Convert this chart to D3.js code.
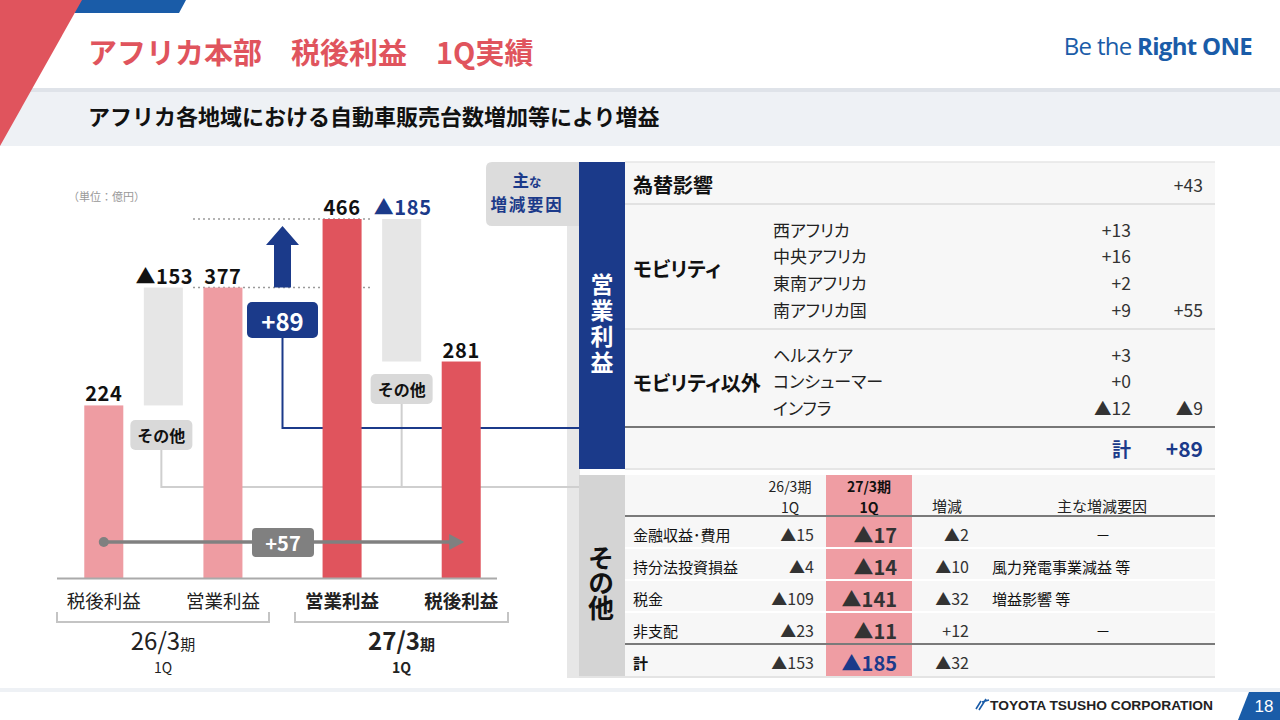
<!DOCTYPE html>
<html><head><meta charset="utf-8">
<script src="https://cdn.jsdelivr.net/npm/d3@7"></script>
<style>
html,body{margin:0;padding:0;background:#fff;}
svg{display:block;}
text{font-family:'Noto Sans CJK JP','Noto Sans',sans-serif;}
.palt{font-feature-settings:"palt";}
</style></head>
<body>
<svg id="c" width="1280" height="720"></svg>
<script>
// ---------- DATA ----------
const barKeys = ["prevNet","prevOther","prevOp","opDelta","curOp","curOther","curNet"];
const barValues = [224, -153, 377, 89, 466, -185, 281];
const axisLabels = ["税後利益","営業利益","営業利益","税後利益"];
const periodLabels = ["26/3","27/3"];
const netChange = 57;

const fxLabel = "為替影響";
const fxValue = 43;
const mobilityLabel = "モビリティ";
const mobilityRegions = ["西アフリカ","中央アフリカ","東南アフリカ","南アフリカ国"];
const mobilityValues = [13, 16, 2, 9];
const mobilityTotal = 55;
const nonMobilityLabel = "モビリティ以外";
const nonMobilityItems = ["ヘルスケア","コンシューマー","インフラ"];
const nonMobilityValues = [3, 0, -12];
const nonMobilityTotal = -9;
const opTotal = 89;

const otherHeaders = ["26/3期","27/3期","増減","主な増減要因"];
const otherItems = ["金融収益･費用","持分法投資損益","税金","非支配","計"];
const otherPrev = [-15, -4, -109, -23, -153];
const otherCur = [-17, -14, -141, -11, -185];
const otherDiff = [-2, -10, -32, 12, -32];
const otherReasons = ["－","風力発電事業減益 等","増益影響 等","－",""];

// ---------- HELPERS ----------
const fmt = v => v < 0 ? "▲" + Math.abs(v) : "+" + v;
const svg = d3.select("#c");
const NAVY = "#1b3a8a", RED = "#e0545d", PINK = "#ee9ca2", GRAYBAR = "#e6e6e6";

// ---------- HEADER ----------
svg.append("rect").attr("x",0).attr("y",88).attr("width",1280).attr("height",58).attr("fill","#eef1f5");
svg.append("rect").attr("x",0).attr("y",88).attr("width",1280).attr("height",4).attr("fill","#dfe3e9");
svg.append("polygon").attr("points","80,0 186,0 179,13 74,13").attr("fill","#1a5ca8");
svg.append("polygon").attr("points","0,0 82,0 0,146").attr("fill",RED);
svg.append("text").attr("x",88).attr("y",64).attr("font-size",29).attr("font-weight",700)
  .attr("fill",RED).text("アフリカ本部\u3000税後利益\u30001Q実績");
const logo = svg.append("text").attr("x",1252).attr("y",55).attr("text-anchor","end")
  .attr("font-size",24).attr("fill","#1a5ca8").style("font-family","'Open Sans',sans-serif").attr("letter-spacing",-0.7);
logo.append("tspan").text("Be the ");
logo.append("tspan").attr("font-weight",700).text("Right ONE");
svg.append("text").attr("x",88).attr("y",125).attr("font-size",22).attr("font-weight",700)
  .attr("fill","#111").text("アフリカ各地域における自動車販売台数増加等により増益");

// ---------- CHART ----------
const x = d3.scaleBand().domain(barKeys).range([74,491]).paddingInner(0.345).paddingOuter(0.1725);
const y = d3.scaleLinear().domain([0,466]).range([578,219]);
const bw = x.bandwidth();
const cx = k => x(k) + bw/2;

svg.append("text").attr("x",68).attr("y",201).attr("font-size",11).attr("fill","#999").text("（単位：億円）");

const ext = {};
ext.prevNet = [0, barValues[0]];
ext.prevOp = [0, barValues[2]];
ext.prevOther = [barValues[2] + barValues[1], barValues[2]];
ext.opDelta = [barValues[2], barValues[2] + barValues[3]];
ext.curOp = [0, barValues[4]];
ext.curOther = [barValues[4] + barValues[5], barValues[4]];
ext.curNet = [0, barValues[6]];

// dotted guides
[barValues[2], barValues[4]].forEach(v => {
  svg.append("line").attr("x1",193).attr("x2",370).attr("y1",y(v)).attr("y2",y(v))
    .attr("stroke","#9a9a9a").attr("stroke-width",1.5).attr("stroke-dasharray","2,3");
});

const fillFor = k => k==="prevNet"||k==="prevOp" ? PINK : (k==="curOp"||k==="curNet" ? RED : GRAYBAR);
const rectKeys = barKeys.filter(k => k !== "opDelta");

// right-panel gray strip (under connectors)
svg.append("rect").attr("x",567).attr("y",162).attr("width",13).attr("height",516).attr("fill","#e7e7e7");

// connector lines
const boxDelta = {x: cx("opDelta"), top: 302, bottom: 338};
svg.append("path").attr("d",`M${cx("prevOther")-2},449 V487 H580 M${cx("curOther")},404 V487`)
  .attr("fill","none").attr("stroke","#cfcfcf").attr("stroke-width",2);
svg.append("path").attr("d",`M${boxDelta.x},${boxDelta.bottom} V428 H582`)
  .attr("fill","none").attr("stroke",NAVY).attr("stroke-width",2);

svg.selectAll("rect.bar").data(rectKeys).join("rect").attr("class","bar")
  .attr("x", k => x(k)).attr("width", bw)
  .attr("y", k => y(ext[k][1])).attr("height", k => y(ext[k][0]) - y(ext[k][1]))
  .attr("fill", fillFor);

// delta arrow
{
  const k = "opDelta", c = cx(k);
  const yb = y(ext[k][0]), yt = y(ext[k][1]) + 7;
  svg.append("path").attr("d",`M${c-8.5},${yb} V${yt+19} H${c-16.5} L${c},${yt} L${c+16.5},${yt+19} H${c+8.5} V${yb} Z`)
    .attr("fill",NAVY);
}

// value labels
barKeys.forEach((k,i) => {
  if (k === "opDelta") return;
  const isTotal = ["prevNet","prevOp","curOp","curNet"].includes(k);
  svg.append("text").attr("x", cx(k) + (isTotal?0:1)).attr("y", y(ext[k][1]) - 4)
    .attr("text-anchor","middle").attr("font-size",20).attr("font-weight",700).attr("letter-spacing",0.6)
    .attr("fill", k==="curOther" ? NAVY : "#111")
    .text(isTotal ? barValues[i] : fmt(barValues[i]));
});

// +89 box
svg.append("rect").attr("x",boxDelta.x-35.5).attr("y",boxDelta.top).attr("width",71).attr("height",36).attr("rx",5).attr("fill",NAVY);
svg.append("text").attr("x",boxDelta.x).attr("y",320).attr("dominant-baseline","central").attr("text-anchor","middle")
  .attr("font-size",24).attr("font-weight",700).attr("fill","#fff").text(fmt(barValues[3]));

// その他 boxes
[[cx("prevOther")-2,435],[cx("curOther"),389]].forEach(([bx,by]) => {
  svg.append("rect").attr("x",bx-31).attr("y",by-15).attr("width",62).attr("height",30).attr("rx",5).attr("fill","#d9d9d9");
  svg.append("text").attr("x",bx).attr("y",by).attr("dominant-baseline","central").attr("text-anchor","middle")
    .attr("font-size",16).attr("font-weight",700).attr("fill","#111").text("その他");
});

// axis line
svg.append("line").attr("x1",57).attr("x2",497).attr("y1",578.5).attr("y2",578.5).attr("stroke","#aaa").attr("stroke-width",2);

// +57 arrow
{
  const y0 = 542, x0 = cx("prevNet"), x1 = cx("curNet");
  svg.append("line").attr("x1",x0).attr("x2",x1-10).attr("y1",y0).attr("y2",y0).attr("stroke","#808080").attr("stroke-width",3.5);
  svg.append("circle").attr("cx",x0).attr("cy",y0).attr("r",5).attr("fill","#808080");
  svg.append("polygon").attr("points",`${x1-12},${y0-8} ${x1+3},${y0} ${x1-12},${y0+8}`).attr("fill","#808080");
  svg.append("rect").attr("x",252).attr("y",528).attr("width",62).attr("height",29).attr("rx",4).attr("fill","#808080");
  svg.append("text").attr("x",283).attr("y",542.5).attr("dominant-baseline","central").attr("text-anchor","middle")
    .attr("font-size",20).attr("font-weight",700).attr("fill","#fff").text(fmt(netChange));
}

// category labels
const catKeys = ["prevNet","prevOp","curOp","curNet"];
catKeys.forEach((k,i) => {
  svg.append("text").attr("x",cx(k)).attr("y",608).attr("text-anchor","middle").attr("font-size",18.5)
    .attr("font-weight", i>=2 ? 700 : 400).attr("fill","#222").text(axisLabels[i]);
});
// brackets + period labels
[[57,269],[295,508]].forEach(([a,b],i) => {
  svg.append("path").attr("d",`M${a},612 V622 H${b} V612`).attr("fill","none").attr("stroke","#c4c4c4").attr("stroke-width",2);
  const c = (a+b)/2;
  const t = svg.append("text").attr("x",c).attr("y",650).attr("text-anchor","middle").attr("fill","#222")
    .attr("font-weight", i===1?700:400);
  t.append("tspan").attr("font-size",24).text(periodLabels[i]);
  t.append("tspan").attr("font-size",15).text("期");
  t.append("tspan").attr("x",c).attr("dy",23).attr("font-size",14).text("1Q");
});

// ---------- RIGHT PANEL ----------
svg.append("path").attr("d","M580,162 H492 Q486,162 486,168 V220 Q486,226 492,226 H580 Z").attr("fill","#dcdcdc");
{
  const t = svg.append("text").attr("x",527).attr("y",187).attr("text-anchor","middle").attr("font-weight",700).attr("fill",NAVY);
  t.append("tspan").attr("font-size",16.5).text("主");
  t.append("tspan").attr("font-size",12.5).text("な");
  t.append("tspan").attr("x",527).attr("dy",24).attr("font-size",16.5).attr("letter-spacing",1.8).text("増減要因");
}
// 営業利益 column
svg.append("rect").attr("x",579).attr("y",162).attr("width",46).attr("height",307).attr("fill",NAVY);
svg.append("text").attr("x",602).attr("y",325).attr("text-anchor","middle")
  .style("writing-mode","vertical-rl").style("text-orientation","upright")
  .attr("font-size",23).attr("font-weight",700).attr("letter-spacing",3).attr("fill","#fff").text("営業利益");

// upper table
svg.append("rect").attr("x",625).attr("y",162).attr("width",590).attr("height",307).attr("fill","#f7f7f7");
svg.append("line").attr("x1",625).attr("x2",1215).attr("y1",162).attr("y2",162).attr("stroke","#e6e6e6").attr("stroke-width",1.5);
[204,329].forEach(v => svg.append("line").attr("x1",625).attr("x2",1215).attr("y1",v).attr("y2",v).attr("stroke","#e2e2e2").attr("stroke-width",2));
svg.append("line").attr("x1",625).attr("x2",1215).attr("y1",427).attr("y2",427).attr("stroke","#777").attr("stroke-width",2);
svg.append("line").attr("x1",625).attr("x2",1215).attr("y1",469).attr("y2",469).attr("stroke","#e6e6e6").attr("stroke-width",2);

const colA = 1131, colB = 1203;
const lbl = (xx,yy,txt,opt={}) => svg.append("text").attr("x",xx).attr("y",yy).attr("dominant-baseline","central")
  .attr("class",opt.palt?"palt":null)
  .attr("text-anchor",opt.anchor||"start").attr("font-size",opt.size||17.5).attr("font-weight",opt.weight||400)
  .attr("fill",opt.fill||"#222").text(txt);

lbl(633,184,fxLabel,{size:20,weight:700,fill:"#111",palt:true});
lbl(colB,184,fmt(fxValue),{anchor:"end",fill:"#333"});

const ys1 = d3.scalePoint().domain(mobilityRegions).range([229,309]);
lbl(633,268,mobilityLabel,{size:20,weight:700,fill:"#111",palt:true});
mobilityRegions.forEach((r,i) => {
  lbl(773,ys1(r),r,{size:17,palt:true});
  lbl(colA,ys1(r),fmt(mobilityValues[i]),{anchor:"end",fill:"#333"});
});
lbl(colB,309,fmt(mobilityTotal),{anchor:"end",fill:"#333"});

const ys2 = d3.scalePoint().domain(nonMobilityItems).range([354,407]);
lbl(633,382,nonMobilityLabel,{size:20,weight:700,fill:"#111",palt:true});
nonMobilityItems.forEach((r,i) => {
  lbl(773,ys2(r),r,{size:17,palt:true});
  lbl(colA,ys2(r),fmt(nonMobilityValues[i]),{anchor:"end",fill:"#333"});
});
lbl(colB,407,fmt(nonMobilityTotal),{anchor:"end",fill:"#333"});
lbl(colA,448,"計",{anchor:"end",size:19,weight:700,fill:NAVY});
lbl(colB,448,fmt(opTotal),{anchor:"end",size:21,weight:700,fill:NAVY});

// lower panel
svg.append("rect").attr("x",579).attr("y",475).attr("width",46).attr("height",203).attr("fill","#d4d4d4");
svg.append("text").attr("x",601).attr("y",583).attr("text-anchor","middle")
  .style("writing-mode","vertical-rl").style("text-orientation","upright")
  .attr("font-size",26).attr("font-weight",700).attr("letter-spacing",-1).attr("fill","#111").text("その他");
svg.append("rect").attr("x",625).attr("y",475).attr("width",590).attr("height",203).attr("fill","#f7f7f7");
svg.append("rect").attr("x",826).attr("y",475).attr("width",86).attr("height",203).attr("fill","#ef9da3");

// header (two-line cells)
[[790,otherHeaders[0],400,"#222"],[869,otherHeaders[1],700,"#111"]].forEach(([hx,h,w,f]) => {
  const t = svg.append("text").attr("x",hx).attr("y",492).attr("text-anchor","middle").attr("font-size",14)
    .attr("font-weight",w).attr("fill",f);
  t.append("tspan").text(h);
  t.append("tspan").attr("x",hx).attr("dy",20.5).text("1Q");
});
lbl(947,505,otherHeaders[2],{anchor:"middle",size:15});
lbl(1102,505,otherHeaders[3],{anchor:"middle",size:15});

const rowY = d3.scalePoint().domain(otherItems).range([534,662]);
[548,580,612].forEach(v => svg.append("line").attr("x1",625).attr("x2",1215).attr("y1",v).attr("y2",v).attr("stroke","#fff").attr("stroke-width",2));
[516,644].forEach(v => svg.append("line").attr("x1",625).attr("x2",1215).attr("y1",v).attr("y2",v).attr("stroke","#7a7a7a").attr("stroke-width",2));
svg.append("line").attr("x1",579).attr("x2",1215).attr("y1",677).attr("y2",677).attr("stroke","#e4e4e4").attr("stroke-width",2);

otherItems.forEach((r,i) => {
  const yy = rowY(r);
  const last = i === otherItems.length-1;
  lbl(633,yy,r,{size:15,weight:last?700:400,fill:"#111"});
  lbl(814,yy,fmt(otherPrev[i]),{anchor:"end",size:16,fill:"#333"});
  lbl(897,yy,fmt(otherCur[i]),{anchor:"end",size:20,weight:700,fill:last?NAVY:"#333"});
  lbl(969,yy,fmt(otherDiff[i]),{anchor:"end",size:16,fill:"#333"});
  const rs = otherReasons[i];
  if (rs === "－") lbl(1103,yy,rs,{anchor:"middle",size:15,fill:"#111"});
  else if (rs) lbl(992,yy,rs,{size:15,fill:"#111"});
});

// ---------- FOOTER ----------
svg.append("rect").attr("x",0).attr("y",688).attr("width",1280).attr("height",4).attr("fill","#eef1f5");
svg.append("polygon").attr("points","1249,692 1280,692 1280,720 1238,720").attr("fill","#1a5ca8");
svg.append("text").attr("x",1264).attr("y",706).attr("dominant-baseline","central").attr("text-anchor","middle")
  .attr("font-size",17).attr("fill","#fff").style("font-family","'Liberation Sans',sans-serif").text("18");
svg.append("path").attr("d","M976,709 L981,701 M979,710 L986,699 M982,702 L989,700").attr("stroke","#1a5ca8").attr("stroke-width",1.6).attr("fill","none");
svg.append("text").attr("x",990).attr("y",710).attr("font-size",13.5).attr("font-weight",700).attr("fill","#222")
  .style("font-family","'Liberation Sans',sans-serif").attr("textLength",223).attr("lengthAdjust","spacingAndGlyphs")
  .text("TOYOTA TSUSHO CORPORATION");
</script>
</body></html>
